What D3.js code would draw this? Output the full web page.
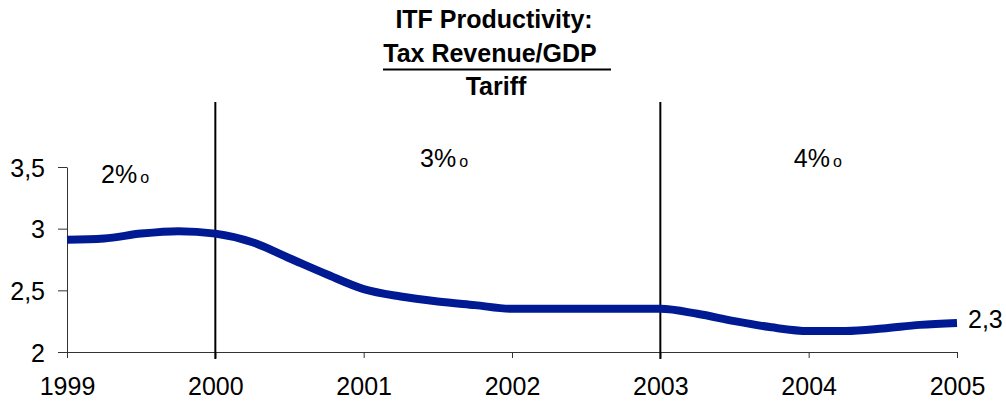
<!DOCTYPE html>
<html>
<head>
<meta charset="utf-8">
<script src="https://cdn.jsdelivr.net/npm/d3@7"></script>
<style>
    html, body { margin: 0; padding: 0; background: #fff; }
    svg { display: block; font-family: "Liberation Sans", Arial, sans-serif; }
</style>
</head>
<body>
<svg id="chart" width="1006" height="401"></svg>
<script>
// 분기별 값
var periods = [1999, 1999.25, 1999.5, 1999.75,
               2000, 2000.25, 2000.5, 2000.75,
               2001, 2001.25, 2001.5, 2001.75,
               2002, 2002.25, 2002.5, 2002.75,
               2003, 2003.25, 2003.5, 2003.75,
               2004, 2004.25, 2004.5, 2004.75,
               2005];
var productivity = [2.91, 2.92, 2.96, 2.98,
                    2.96, 2.89, 2.76, 2.63,
                    2.51, 2.45, 2.41, 2.38,
                    2.35, 2.35, 2.35, 2.35,
                    2.35, 2.31, 2.25, 2.20,
                    2.17, 2.17, 2.19, 2.22,
                    2.235];
var yearTicks = [1999, 2000, 2001, 2002, 2003, 2004, 2005];
var valueTicks = [2, 2.5, 3, 3.5];
var tariffBreaks = [2000, 2003];
var tariffLabels = [
    { x: 1999.23, y: 3.37, text: '2%' },
    { x: 2001.38, y: 3.5, text: '3%' },
    { x: 2003.9, y: 3.5, text: '4%' }
];
var titleLines = ['ITF Productivity:', 'Tax Revenue/GDP', 'Tariff'];
var endLabel = '2,3';

(function () {
    var svg = d3.select('#chart');
    var FONT = 25;

    var x = d3.scaleLinear().domain([1999, 2005]).range([67, 957]);
    var y = d3.scaleLinear().domain([2, 3.5]).range([352, 167]);

    function comma(v) { return String(v).replace('.', ','); }

    // 제목
    var title = svg.append('g').attr('class', 'title');
    var baselines = [28, 62, 95];
    var centersX = [494, 490, 496];
    titleLines.forEach(function (t, i) {
        title.append('text')
            .attr('x', centersX[i]).attr('y', baselines[i])
            .attr('text-anchor', 'middle')
            .attr('font-size', 25)
            .attr('font-weight', 700)
            .attr('fill', '#000')
            .text(t);
    });
    // 분수선 (Tax Revenue/GDP 밑줄)
    title.append('line')
        .attr('x1', 383).attr('x2', 611)
        .attr('y1', 69.5).attr('y2', 69.5)
        .attr('stroke', '#000').attr('stroke-width', 2);

    // y 축
    var yAxis = svg.append('g').attr('transform', 'translate(' + x(1999) + ',0)')
        .call(d3.axisLeft(y).tickValues(valueTicks).tickSize(9).tickSizeOuter(0)
            .tickFormat(function (d) { return comma(d); }));
    yAxis.select('.domain').attr('stroke', '#333');
    yAxis.selectAll('.tick line').attr('stroke', '#333');
    yAxis.selectAll('.tick text')
        .attr('font-size', FONT).attr('fill', '#000')
        .attr('font-family', '"Liberation Sans", Arial, sans-serif')
        .attr('x', -22).attr('dy', '0.36em');

    // x 축
    var xAxis = svg.append('g').attr('transform', 'translate(0,' + y(2) + ')')
        .call(d3.axisBottom(x).tickValues(yearTicks).tickSize(6).tickSizeOuter(0)
            .tickFormat(d3.format('d')));
    xAxis.select('.domain').attr('stroke', '#333');
    xAxis.selectAll('.tick line').attr('stroke', '#333');
    xAxis.selectAll('.tick text')
        .attr('font-size', FONT).attr('fill', '#000')
        .attr('font-family', '"Liberation Sans", Arial, sans-serif')
        .attr('y', 25).attr('dy', '0.71em');

    // 관세 변경 시점 세로선
    svg.append('g').selectAll('line').data(tariffBreaks).join('line')
        .attr('x1', function (d) { return x(d); })
        .attr('x2', function (d) { return x(d); })
        .attr('y1', 102).attr('y2', y(2) + 7)
        .attr('stroke', '#000').attr('stroke-width', 2);

    // 관세율 라벨 (% + 작은 o)
    var tl = svg.append('g').selectAll('text').data(tariffLabels).join('text')
        .attr('x', function (d) { return x(d.x); })
        .attr('y', function (d) { return y(d.y); })
        .attr('font-size', FONT).attr('fill', '#000');
    tl.append('tspan').text(function (d) { return d.text; });
    tl.append('tspan').attr('font-size', 16).attr('dx', 3).text('o');

    // 선
    var pts = periods.map(function (p, i) { return [p, productivity[i]]; });
    var line = d3.line()
        .x(function (d) { return x(d[0]); })
        .y(function (d) { return y(d[1]); })
        .curve(d3.curveMonotoneX);
    svg.append('path')
        .datum(pts)
        .attr('d', line)
        .attr('fill', 'none')
        .attr('stroke', '#001a94')
        .attr('stroke-width', 8)
        .attr('stroke-linejoin', 'round');

    // 끝값 라벨
    var last = pts[pts.length - 1];
    svg.append('text')
        .attr('x', x(last[0]) + 11)
        .attr('y', y(last[1]) + 5)
        .attr('font-size', FONT).attr('fill', '#000')
        .text(endLabel);
})();
</script>
</body>
</html>
